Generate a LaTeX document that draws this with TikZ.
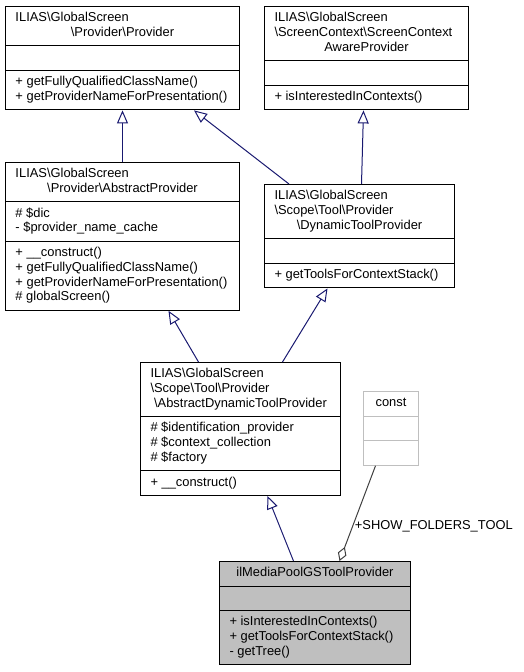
\documentclass[tikz,border=0pt]{standalone}
\usepackage{fontspec}
\setmainfont{Liberation Sans}
\usepackage{tikz}
\usetikzlibrary{arrows.meta,shapes.multipart}

\definecolor{edgeblue}{HTML}{191970}
\definecolor{agggray}{HTML}{404040}
\definecolor{boxgray}{HTML}{BFBFBF}
\newcommand{\clsfont}{\fontsize{12.9}{14.8}\selectfont\hyphenpenalty=10000}
\newcommand{\lastln}[1]{\makebox[\hsize]{\strut#1}}

\begin{document}
\begin{tikzpicture}[x=1pt,y=-1pt,line width=1pt,
  class/.style={rectangle split,rectangle split parts=3,draw=black,anchor=north west,
    inner xsep=10pt,inner ysep=4.4pt,align=flush left,font=\clsfont},
  inh/.style={color=edgeblue,-{Triangle[open,length=13pt,width=11pt]}},
  agg/.style={color=agggray,{Diamond[open,length=15pt,width=9pt]}-}]
  \tikzset{LabelStyle/.style = {text=black,font=\clsfont,inner sep=2pt}}
  \useasboundingbox (0,0) rectangle (524,672);

  \node[class,text width=214pt] (provider) at (5,6)
    {\strut ILIAS\textbackslash GlobalScreen\\\lastln{\textbackslash Provider\textbackslash Provider}
     \nodepart{two}\strut
     \nodepart{three}\strut+~getFullyQualifiedClassName()\\+~getProviderNameForPresentation()\strut};
  \node[class,text width=184pt] (scap) at (264,6)
    {\strut ILIAS\textbackslash GlobalScreen\\\textbackslash ScreenContext\textbackslash ScreenContext\\\lastln{AwareProvider}
     \nodepart{two}\strut
     \nodepart{three}\strut+~isInterestedInContexts()\strut};
  \node[class,text width=214pt] (absprov) at (5,162)
    {\strut ILIAS\textbackslash GlobalScreen\\\lastln{\textbackslash Provider\textbackslash AbstractProvider}
     \nodepart{two}\strut\#~\$dic\\-~\$provider\_name\_cache\strut
     \nodepart{three}\strut+~\_\_construct()\\+~getFullyQualifiedClassName()\\+~getProviderNameForPresentation()\\\#~globalScreen()\strut};
  \node[class,text width=170pt] (dyn) at (264,184)
    {\strut ILIAS\textbackslash GlobalScreen\\\textbackslash Scope\textbackslash Tool\textbackslash Provider\\\lastln{\textbackslash DynamicToolProvider}
     \nodepart{two}\strut
     \nodepart{three}\strut+~getToolsForContextStack()\strut};
  \node[class,text width=180pt] (adtp) at (140,362)
    {\strut ILIAS\textbackslash GlobalScreen\\\textbackslash Scope\textbackslash Tool\textbackslash Provider\\\lastln{\textbackslash AbstractDynamicToolProvider}
     \nodepart{two}\strut\#~\$identification\_provider\\\#~\$context\_collection\\\#~\$factory\strut
     \nodepart{three}\strut+~\_\_construct()\strut};
  \node[class,draw=boxgray,text width=35pt] (const) at (363,391)
    {\lastln{const}
     \nodepart{two}\strut
     \nodepart{three}\strut};
  \node[class,fill=boxgray,text width=171pt] (ilmp) at (219,561)
    {\lastln{ilMediaPoolGSToolProvider}
     \nodepart{two}\strut
     \nodepart{three}\strut+~isInterestedInContexts()\\+~getToolsForContextStack()\\-~getTree()\strut};

  \path[inh]
    (absprov.north) edge (provider.south)
    ([xshift=25pt]dyn.north west) edge ([xshift=-46pt]provider.south east)
    ([xshift=2pt]dyn.north) edge ([xshift=-3pt]scap.south)
    ([xshift=-42pt]adtp.north) edge ([xshift=46pt]absprov.south)
    ([xshift=42pt]adtp.north) edge ([xshift=-32pt]dyn.south)
    ([xshift=-21.5pt]ilmp.north) edge ([xshift=27pt]adtp.south);
  \path[agg]
    ([xshift=24.5pt]ilmp.north) edge node[LabelStyle,pos=0.36,anchor=west] (showtool) {+SHOW\_FOLDERS\_TOOL} ([xshift=-15.5pt]const.south);
\end{tikzpicture}
\end{document}
